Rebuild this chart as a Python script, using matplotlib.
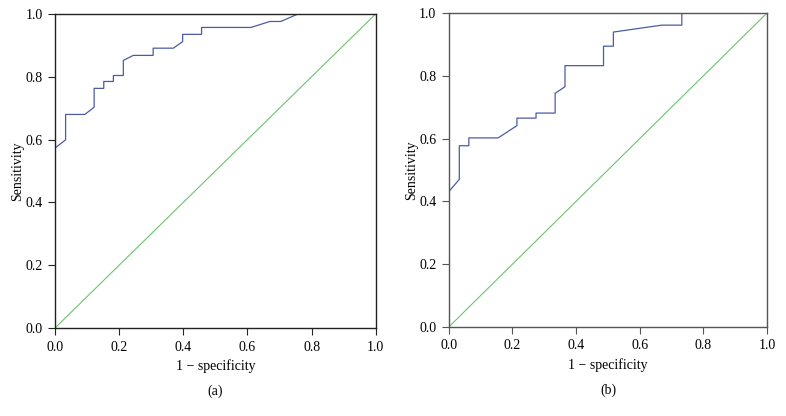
import matplotlib.pyplot as plt

plt.rcParams['font.family'] = ['Liberation Serif', 'DejaVu Serif']

# ROC curve (a): 1 - specificity / sensitivity
fpr_a = [0.0, 0.033, 0.033, 0.093, 0.122, 0.122, 0.152, 0.152, 0.182, 0.182,
         0.213, 0.213, 0.244, 0.306, 0.306, 0.369, 0.398, 0.398, 0.457, 0.457,
         0.611, 0.670, 0.704, 0.758, 1.0]
tpr_a = [0.573, 0.599, 0.680, 0.680, 0.703, 0.763, 0.763, 0.785, 0.785, 0.804,
         0.804, 0.852, 0.868, 0.868, 0.891, 0.891, 0.912, 0.935, 0.935, 0.957,
         0.957, 0.976, 0.976, 1.0, 1.0]

# ROC curve (b)
fpr_b = [0.0, 0.033, 0.033, 0.063, 0.063, 0.155, 0.214, 0.214, 0.274, 0.274,
         0.334, 0.334, 0.365, 0.365, 0.486, 0.486, 0.517, 0.517, 0.669, 0.732,
         0.732, 1.0]
tpr_b = [0.431, 0.470, 0.577, 0.577, 0.602, 0.602, 0.641, 0.665, 0.665, 0.681,
         0.681, 0.744, 0.765, 0.832, 0.832, 0.894, 0.894, 0.939, 0.961, 0.961,
         1.0, 1.0]

ref_line = [0.0, 1.0]
ticks = [0.0, 0.2, 0.4, 0.6, 0.8, 1.0]
panels = [(fpr_a, tpr_a, '(a)', '#222222'), (fpr_b, tpr_b, '(b)', '#555555')]

fig = plt.figure(figsize=(7.86, 4.16), dpi=100)
positions = [[0.070, 0.2115, 0.408, 0.755], [0.571, 0.214, 0.405, 0.755]]

for pos, (fx, ty, cap, sc) in zip(positions, panels):
    ax = fig.add_axes(pos)
    ax.plot(ref_line, ref_line, color='#6cc36c', lw=0.8)
    ax.plot(fx, ty, color='#4b5ba6', lw=0.9)
    ax.set_xlim(0, 1)
    ax.set_ylim(0, 1)
    ax.set_xticks(ticks)
    ax.set_yticks(ticks)
    ax.set_xticklabels(['%.1f' % t for t in ticks])
    ax.set_yticklabels(['%.1f' % t for t in ticks])
    ax.tick_params(direction='out', length=5, width=0.8, labelsize=10,
                   color=sc, pad=4)
    for s in ax.spines.values():
        s.set_color(sc)
        s.set_linewidth(1.0)
    ax.set_xlabel('1 \u2212 specificity', fontsize=10, labelpad=4)
    ax.set_ylabel('Sensitivity', fontsize=10, labelpad=1)
    ax.text(0.5, -0.2, cap, transform=ax.transAxes, ha='center', va='center',
            fontsize=10)

fig.savefig('out.png', dpi=100)
